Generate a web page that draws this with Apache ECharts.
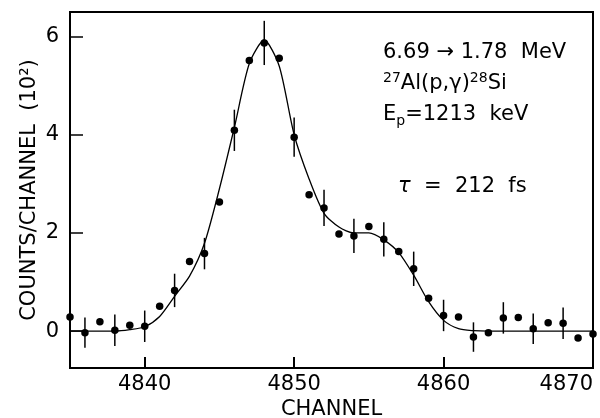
<!DOCTYPE html>
<html>
<head>
<meta charset="utf-8">
<script src="https://cdn.jsdelivr.net/npm/echarts@6/dist/echarts.min.js"></script>
<style>
html,body{margin:0;padding:0;background:#fff;}
#chart{width:600px;height:418px;}
</style>
</head>
<body>
<div id="chart"></div>
<script>
// ---- data ----
var channels = [4835,4836,4837,4838,4839,4840,4841,4842,4843,4844,4845,4846,4847,4848,4849,4850,4851,4852,
                4853,4854,4855,4856,4857,4858,4859,4860,4861,4862,4863,4864,4865,4866,4867,4868,4869,4870];
var counts = [0.29,-0.03,0.19,0.02,0.12,0.10,0.51,0.83,1.42,1.58,2.63,4.09,5.51,5.87,5.56,3.95,2.78,2.51,
              1.98,1.94,2.13,1.87,1.62,1.27,0.67,0.32,0.29,-0.12,-0.03,0.27,0.28,0.05,0.17,0.16,-0.14,-0.06];
var fitCurve = [0,0,0,0,0.03,0.09,0.30,0.71,1.12,1.79,2.90,4.15,5.45,5.93,5.40,4.00,3.10,2.40,
                2.12,2.00,2.00,1.86,1.60,1.14,0.60,0.22,0.05,0.01,0,0,0,0,0,0,0,0];
var errChannels = [4836,4838,4840,4842,4844,4846,4848,4850,4852,4854,4856,4858,4860,4862,4864,4866,4868];
var errHalf = [0.31,0.32,0.32,0.34,0.32,0.42,0.45,0.40,0.37,0.35,0.35,0.35,0.32,0.30,0.32,0.31,0.32];
var xTicks = [4840,4850,4860,4870];
var yTicks = [0,2,4,6];

var FONT = '"DejaVu Sans", sans-serif';
var tickRich = {t:{fontFamily:FONT,fontSize:21,color:'#000',lineHeight:24}};

var pointData = channels.map(function(c,i){return [c, counts[i]];});
var curveData = channels.map(function(c,i){return [c, fitCurve[i]];});
var errData = errChannels.map(function(c,i){
  var v = counts[channels.indexOf(c)];
  return [c, v - errHalf[i], v + errHalf[i]];
});

var chart = echarts.init(document.getElementById('chart'), null, {renderer:'canvas'});
chart.setOption({
  animation:false,
  backgroundColor:'#fff',
  grid:{left:70,right:7,top:12,bottom:50,containLabel:false,outerBoundsMode:'none',
        show:true,borderColor:'#000',borderWidth:2,backgroundColor:'transparent'},
  xAxis:{
    type:'value',min:4835,max:4870,
    name:'CHANNEL',nameLocation:'middle',nameGap:31,nameMoveOverlap:false,
    nameTextStyle:{fontFamily:FONT,fontSize:21,color:'#000'},
    axisLine:{show:true,onZero:false,lineStyle:{color:'#000',width:2}},
    axisTick:{show:true,inside:true,length:11,lineStyle:{color:'#000',width:2},customValues:xTicks},
    axisLabel:{fontFamily:FONT,fontSize:21,color:'#000',margin:5,customValues:xTicks,alignMaxLabel:'right',
      formatter:function(v){return '{t|' + v + '}';},rich:tickRich},
    splitLine:{show:false}
  },
  yAxis:{
    type:'value',min:-0.75,max:6.5,
    name:'COUNTS/CHANNEL  (10²)',nameLocation:'middle',nameGap:30,nameRotate:90,nameMoveOverlap:false,
    nameTextStyle:{fontFamily:FONT,fontSize:21,color:'#000'},
    axisLine:{show:true,onZero:false,lineStyle:{color:'#000',width:2}},
    axisTick:{show:true,inside:true,length:13,lineStyle:{color:'#000',width:1.5},customValues:yTicks},
    axisLabel:{fontFamily:FONT,fontSize:21,color:'#000',margin:11,customValues:yTicks,
      formatter:function(v){return '{t|' + v + '}';},rich:tickRich},
    splitLine:{show:false}
  },
  series:[
    {type:'line',data:curveData,smooth:0.25,symbol:'none',lineStyle:{color:'#000',width:1.3},z:2},
    {type:'scatter',data:pointData,symbol:'circle',symbolSize:7.5,itemStyle:{color:'#000',opacity:1},z:3},
    {type:'custom',data:errData,z:3,
     renderItem:function(params,api){
       var x = api.value(0);
       var p1 = api.coord([x, api.value(1)]);
       var p2 = api.coord([x, api.value(2)]);
       return {type:'line',shape:{x1:p1[0],y1:p1[1],x2:p2[0],y2:p2[1]},style:{stroke:'#000',lineWidth:1.5}};
     }}
  ],
  graphic:[
    {type:'text',x:383,y:53,style:{text:'6.69 → 1.78  MeV',font:'21px '+FONT,fill:'#000',
      textVerticalAlign:'middle',verticalAlign:'middle'}},
    {type:'text',x:383,y:84,style:{text:'{sup|27}Al(p,γ){sup|28}Si',font:'21px '+FONT,fill:'#000',lineHeight:26,
      textVerticalAlign:'middle',verticalAlign:'middle',
      rich:{sup:{fontSize:14,fontFamily:FONT,lineHeight:14,verticalAlign:'top'}}}},
    {type:'text',x:383,y:115,style:{text:'E{sub|p}=1213  keV',font:'21px '+FONT,fill:'#000',lineHeight:26,
      textVerticalAlign:'middle',verticalAlign:'middle',
      rich:{sub:{fontSize:14,fontFamily:FONT,lineHeight:14,verticalAlign:'bottom'}}}},
    {type:'text',x:398,y:187,style:{text:'{t|τ}  =  212  fs',font:'21px '+FONT,fill:'#000',
      textVerticalAlign:'middle',verticalAlign:'middle',
      rich:{t:{fontStyle:'italic',fontSize:21,fontFamily:FONT}}}}
  ]
});
</script>
</body>
</html>
